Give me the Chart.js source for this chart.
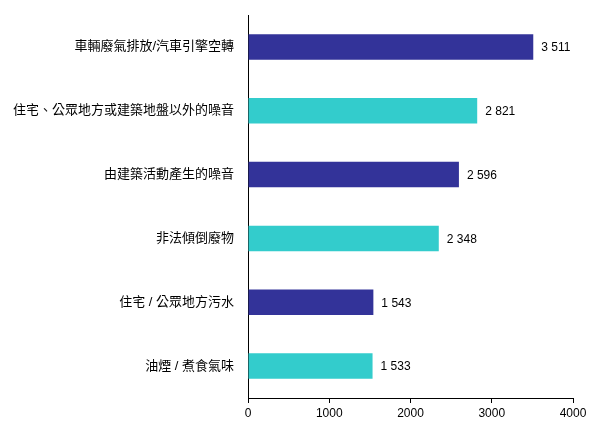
<!DOCTYPE html>
<html>
<head>
<meta charset="utf-8">
<script src="https://cdn.jsdelivr.net/npm/chart.js@4"></script>
<style>
  html, body { margin: 0; padding: 0; background: #fff; }
  #wrap { width: 602px; height: 442px; }
</style>
</head>
<body>
<div id="wrap"><canvas id="chart" width="602" height="442"></canvas></div>
<script>
// Complaint categories, top to bottom
const categories = [
    '車輛廢氣排放/汽車引擎空轉',
    '住宅、公眾地方或建築地盤以外的噪音',
    '由建築活動產生的噪音',
    '非法傾倒廢物',
    '住宅 / 公眾地方污水',
    '油煙 / 煮食氣味'
];
const counts = [3511, 2821, 2596, 2348, 1543, 1533];
const xTicks = [0, 1000, 2000, 3000, 4000];

const darkBlue = '#333399';
const cyan = '#33cccc';
const fontFamily = '"Liberation Sans", Arial, "Noto Sans CJK TC", sans-serif';

// Alternate the bar colours
const barColors = counts.map((v, i) => (i % 2 === 0 ? darkBlue : cyan));

// Format numbers with a space as thousands separator, e.g. "3 511"
function formatCount(n) {
    return String(n).replace(/\B(?=(\d{3})+(?!\d))/g, ' ');
}

// Simple plugin to write the value just after each bar
const valueLabels = {
    id: 'valueLabels',
    afterDatasetsDraw(chart) {
        const ctx = chart.ctx;
        const meta = chart.getDatasetMeta(0);
        ctx.save();
        ctx.font = '12px ' + fontFamily;
        ctx.fillStyle = '#000';
        ctx.textAlign = 'left';
        ctx.textBaseline = 'middle';
        meta.data.forEach((bar, i) => {
            ctx.fillText(formatCount(counts[i]), bar.x + 8, bar.y + 1);
        });
        ctx.restore();
    }
};

const ctx = document.getElementById('chart').getContext('2d');
new Chart(ctx, {
    type: 'bar',
    data: {
        labels: categories,
        datasets: [{
            data: counts,
            backgroundColor: barColors,
            borderWidth: 0,
            barPercentage: 0.4,
            categoryPercentage: 1.0
        }]
    },
    options: {
        indexAxis: 'y',
        responsive: false,
        devicePixelRatio: 1,
        animation: false,
        layout: {
            padding: { left: 0, right: 29, top: 15, bottom: 0 }
        },
        scales: {
            x: {
                min: 0,
                max: 4000,
                afterBuildTicks(axis) {
                    axis.ticks = xTicks.map(v => ({ value: v }));
                },
                afterFit(axis) {
                    axis.height = 44;
                },
                grid: {
                    drawOnChartArea: false,
                    drawTicks: true,
                    tickLength: 5,
                    color: '#000'
                },
                border: { display: true, color: '#000', width: 1 },
                ticks: {
                    color: '#000',
                    padding: 3,
                    maxRotation: 0,
                    callback: v => String(v),
                    font: { family: fontFamily, size: 12 }
                }
            },
            y: {
                afterFit(axis) {
                    axis.width = 248;
                    axis.paddingTop = 0;
                    axis.paddingBottom = 0;
                },
                grid: {
                    drawOnChartArea: false,
                    drawTicks: false
                },
                border: { display: true, color: '#000', width: 1 },
                ticks: {
                    color: '#000',
                    padding: 14,
                    font: { family: fontFamily, size: 13 }
                }
            }
        },
        plugins: {
            legend: { display: false },
            tooltip: { enabled: false }
        }
    },
    plugins: [valueLabels]
});
</script>
</body>
</html>
